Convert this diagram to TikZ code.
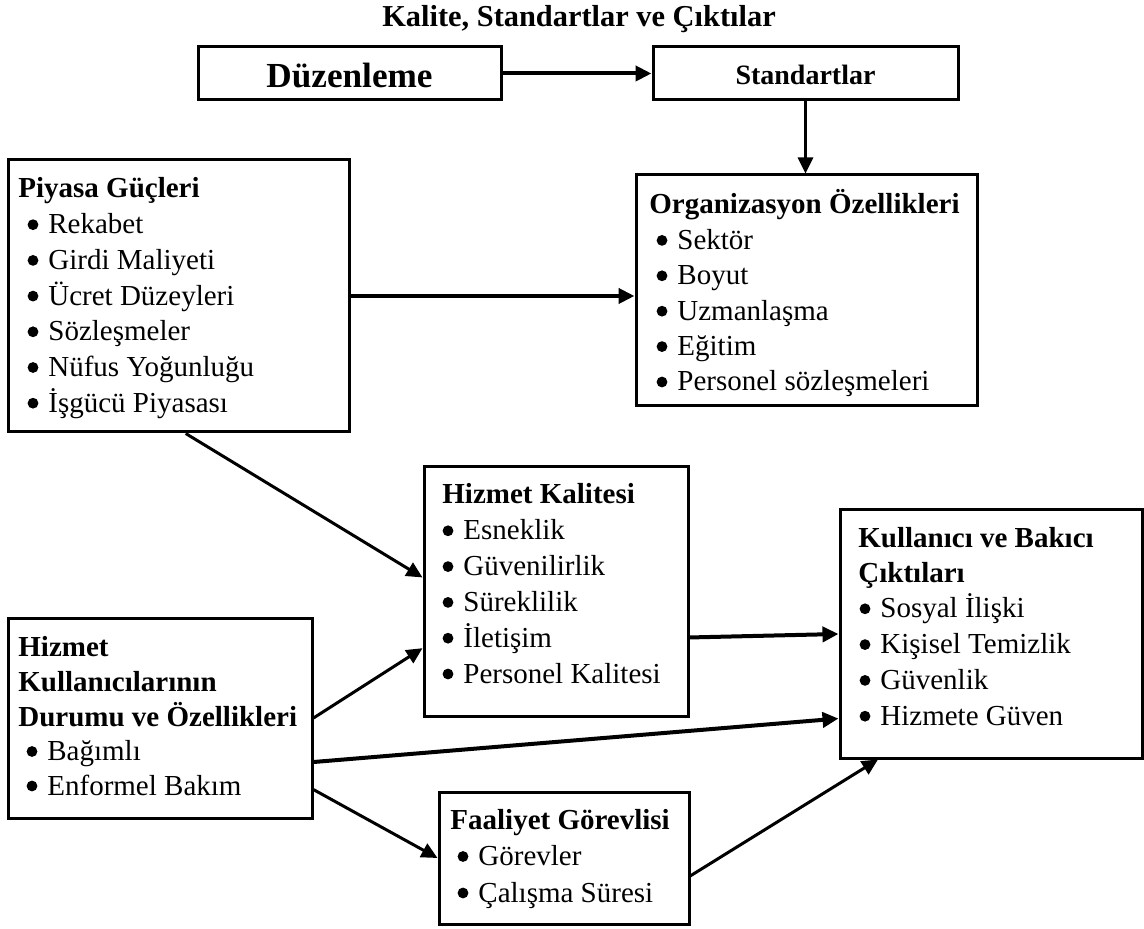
\documentclass[tikz,border=0pt]{standalone}
\usepackage{fontspec}
\setmainfont{Liberation Serif}
\usetikzlibrary{positioning,arrows.meta,fit}
\tikzset{
    box/.style={draw, line width=1.5pt, inner sep=0pt},
    head/.style={anchor=base west, inner sep=0pt, font=\fontsize{14.5pt}{17pt}\selectfont\bfseries},
    item/.style={anchor=base west, inner sep=0pt, font=\fontsize{14.5pt}{17pt}\selectfont},
    dot/.style={circle, fill, inner sep=0pt, minimum size=5.4pt},
    flow/.style={-{Triangle[length=8pt,width=7.5pt]}, line width=1.5pt},
    bigflow/.style={flow, line width=2pt}
}

\begin{document}
\begin{tikzpicture}[x=0.5pt, y=-0.5pt]
  \useasboundingbox (0,0) rectangle (1144,929);

  % Title
  \node[anchor=base, inner sep=0pt, font=\fontsize{15.2pt}{17pt}\selectfont\bfseries] (title) at (579,27) {Kalite, Standartlar ve Çıktılar};

  % Top row
  \node[box, fit={(198,47) (501,100)}] (duz) {};
  \node[box, fit={(653,47) (958,100)}] (stand) {};
  \node[anchor=base, inner sep=0pt, font=\fontsize{17.6pt}{19pt}\selectfont\bfseries] (duzT) at (duz |- 0,88) {Düzenleme};
  \node[anchor=base, inner sep=0pt, font=\fontsize{14pt}{16pt}\selectfont\bfseries] (standT) at (stand |- 0,85) {Standartlar};

  % Boxes
  \node[box, fit={(8,160) (349,432)}] (piy) {};
  \node[box, fit={(636,175) (977,406)}] (org) {};
  \node[box, fit={(424,467) (688,716)}] (hk) {};
  \node[box, fit={(840,510) (1142,758)}] (kul) {};
  \node[box, fit={(8,618) (312,818)}] (hku) {};
  \node[box, fit={(439,792) (689,924)}] (fa) {};

  % Piyasa Güçleri
  \node[head] (piyT) at (18,198) {Piyasa Güçleri};
  \foreach \t [count=\i] in {Rekabet, Girdi Maliyeti, Ücret Düzeyleri, Sözleşmeler, Nüfus Yoğunluğu, İşgücü Piyasası} {
    \node[dot] (piyd\i) at (33,{189+35.7*\i}) {};
    \node[item] (piy\i) at (48,{198+35.7*\i}) {\t};
  }

  % Organizasyon Özellikleri
  \node[head] (orgT) at (649,214) {Organizasyon Özellikleri};
  \foreach \t [count=\i] in {Sektör, Boyut, Uzmanlaşma, Eğitim, Personel sözleşmeleri} {
    \node[dot] (orgd\i) at (662,{205+35.4*\i}) {};
    \node[item] (org\i) at (677,{214+35.4*\i}) {\t};
  }

  % Hizmet Kalitesi
  \node[head] (hkT) at (442,504) {Hizmet Kalitesi};
  \foreach \t [count=\i] in {Esneklik, Güvenilirlik, Süreklilik, İletişim, Personel Kalitesi} {
    \node[dot] (hkd\i) at (448,{495+35.8*\i}) {};
    \node[item] (hk\i) at (463,{504+35.8*\i}) {\t};
  }

  % Kullanıcı ve Bakıcı Çıktıları
  \node[head] (kulT) at (858,547) {Kullanıcı ve Bakıcı};
  \node[head] (kulU) at (858,582) {Çıktıları};
  \foreach \t [count=\i] in {Sosyal İlişki, Kişisel Temizlik, Güvenlik, Hizmete Güven} {
    \node[dot] (kuld\i) at (865,{573+35.8*\i}) {};
    \node[item] (kul\i) at (880,{582+35.8*\i}) {\t};
  }

  % Hizmet Kullanıcılarının Durumu
  \node[head] (hkuT) at (18,656) {Hizmet};
  \node[head] (hkuU) at (18,691) {Kullanıcılarının};
  \node[head] (hkuV) at (18,726) {Durumu ve Özellikleri};
  \foreach \t [count=\i] in {Bağımlı, Enformel Bakım} {
    \node[dot] (hkud\i) at (32,{717+34.5*\i}) {};
    \node[item] (hku\i) at (47,{726+34.5*\i}) {\t};
  }

  % Faaliyet Görevlisi
  \node[head] (faT) at (450,829) {Faaliyet Görevlisi};
  \foreach \t [count=\i] in {Görevler, Çalışma Süresi} {
    \node[dot] (fad\i) at (463,{820+36.5*\i}) {};
    \node[item] (fa\i) at (478,{829+36.5*\i}) {\t};
  }

  % Arrows
  \draw[bigflow] (duz) -- (stand);
  \draw[flow] (stand) -- (stand |- org.north);
  \draw[bigflow] (piy) -- (piy -| org.west);
  \draw[flow] (piy.-87) -- (hk.174);
  \draw[bigflow] (hk.-19) -- (kul.west);
  \draw[flow] (hku.east) -- (hk.-157);
  \draw[bigflow] (hku.-16) -- (kul.-151);
  \draw[flow] (hku.-25) -- (fa.west);
  \draw[flow] (fa.-8) -- (kul.-132);
\end{tikzpicture}
\end{document}
